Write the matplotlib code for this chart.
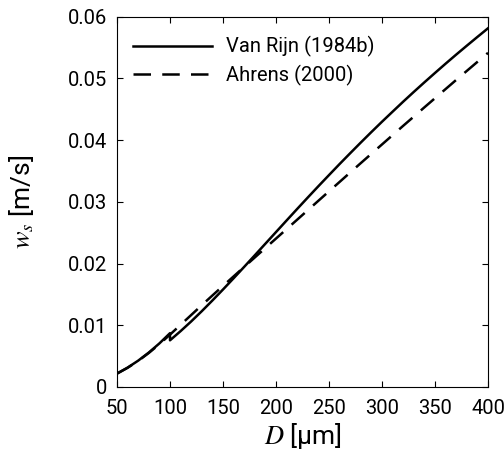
import numpy as np
import matplotlib
matplotlib.use("Agg")
import matplotlib.pyplot as plt

# grain size [um] and settling velocity [m/s]
d_vr = [50, 60, 70, 80, 90, 100,
        100, 110, 120, 130, 140, 150, 160, 170, 180, 190, 200, 210, 220, 230, 240,
        250, 260, 270, 280, 290, 300, 310, 320, 330, 340, 350, 360, 370, 380, 390, 400]
ws_vr = [0.00218, 0.00314, 0.00427, 0.00558, 0.00706, 0.00872,
         0.00756, 0.00905, 0.01062, 0.01228, 0.01401, 0.01579, 0.01761, 0.01946,
         0.02133, 0.02321, 0.02509, 0.02697, 0.02884, 0.03069, 0.03252, 0.03432,
         0.03611, 0.03786, 0.03959, 0.04129, 0.04296, 0.04459, 0.04621, 0.04779,
         0.04934, 0.05086, 0.05236, 0.05383, 0.05527, 0.05669, 0.05809]

d_ah = [50, 60, 70, 80, 90, 100, 110, 120, 130, 140, 150, 160, 170, 180, 190, 200,
        210, 220, 230, 240, 250, 260, 270, 280, 290, 300, 310, 320, 330, 340, 350,
        360, 370, 380, 390, 400]
ws_ah = [0.00216, 0.00311, 0.00423, 0.00551, 0.00694, 0.00848, 0.01007, 0.01166,
         0.01325, 0.01482, 0.01637, 0.01791, 0.01945, 0.02098, 0.02251, 0.02404,
         0.02557, 0.02710, 0.02863, 0.03016, 0.03169, 0.03321, 0.03474, 0.03626,
         0.03777, 0.03928, 0.04079, 0.04230, 0.04379, 0.04529, 0.04677, 0.04825,
         0.04973, 0.05119, 0.05265, 0.05411]

labels = ["Van Rijn (1984b)", "Ahrens (2000)"]
xticks = [50, 100, 150, 200, 250, 300, 350, 400]
yticks = [0, 0.01, 0.02, 0.03, 0.04, 0.05, 0.06]
ytick_labels = ["0", "0.01", "0.02", "0.03", "0.04", "0.05", "0.06"]

plt.rcParams['font.family'] = ['Roboto', 'DejaVu Sans']
plt.rcParams['mathtext.fontset'] = 'stix'

fig = plt.figure(figsize=(5.04, 4.59), dpi=100)
ax = fig.add_axes([117/504, 1 - 387/459, 371/504, 370.5/459])

ax.plot(d_vr, ws_vr, color='k', lw=1.8, label=labels[0])
ax.plot(d_ah, ws_ah, color='k', lw=1.8, dashes=(7, 4.5), label=labels[1])

ax.set_xlim(50, 400)
ax.set_ylim(0, 0.06)
ax.set_xticks(xticks)
ax.set_yticks(yticks)
ax.set_yticklabels(ytick_labels)
ax.tick_params(direction='in', top=True, right=True, length=4, width=0.8,
               labelsize=14.5)
ax.tick_params(axis='x', pad=9)
ax.tick_params(axis='y', pad=7)
for s in ax.spines.values():
    s.set_linewidth(0.8)

ax.set_xlabel(r'$D$ [μm]', fontsize=19, labelpad=2)
ax.set_ylabel(r'$w_s$ [m/s]', fontsize=19, labelpad=23)

ax.legend(loc='upper left', frameon=False, fontsize=14.5, handlelength=3.9,
          handletextpad=0.7, labelspacing=0.36, borderaxespad=0,
          bbox_to_anchor=(0.022, 0.968))

fig.savefig("out.png", dpi=100)
